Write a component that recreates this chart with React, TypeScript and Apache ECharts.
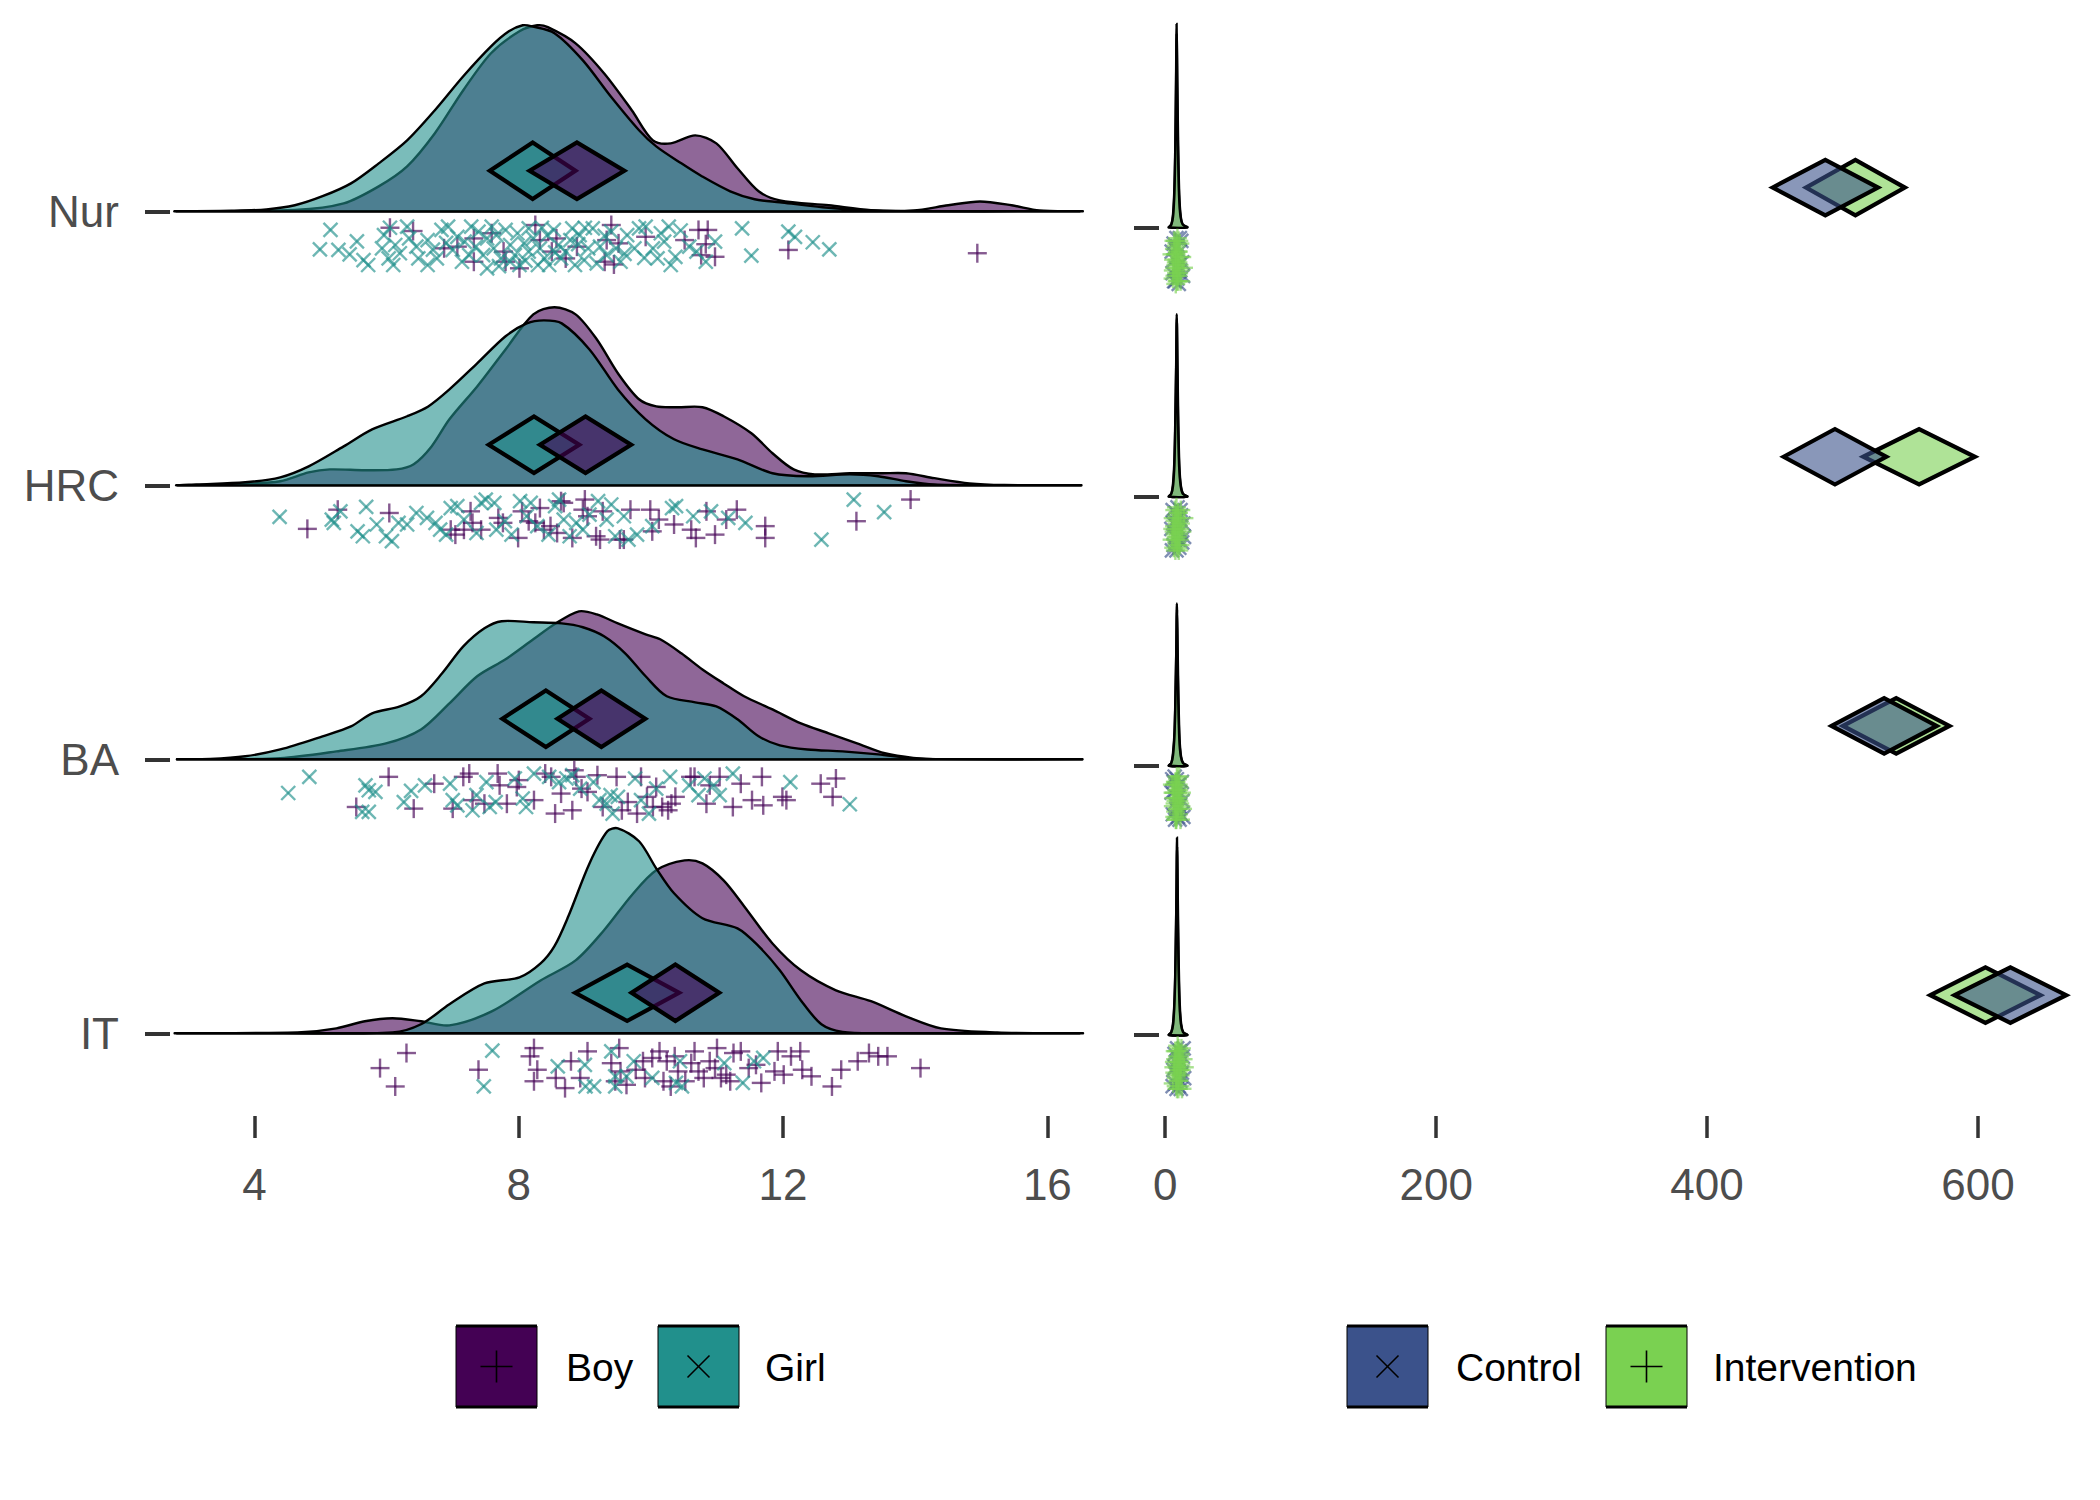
import React, { useEffect, useRef } from "react";
import * as echarts from "echarts";

// ---------- categories & ticks ----------
const ROW_NAMES = ["IT", "BA", "HRC", "Nur"]; // rows 1..4 (bottom to top)
const LEFT_TICKS = [4, 8, 12, 16];
const RIGHT_TICKS = [0, 200, 400, 600];
const SEX_GROUPS = ["Boy", "Girl"];
const ARM_GROUPS = ["Control", "Intervention"];

// ---------- left panel densities: [value, height above row] ----------
const boyDensNur = [[2.85,0],[4.61,0.005],[5.35,0.029],[5.88,0.091],[6.31,0.164],[6.73,0.285],[7.16,0.442],[7.58,0.577],[8.01,0.657],[8.28,0.679],[8.44,0.672],[8.86,0.613],[9.29,0.504],[9.71,0.369],[10.03,0.259],[10.3,0.248],[10.67,0.277],[10.99,0.248],[11.31,0.157],[11.63,0.073],[11.95,0.04],[12.69,0.022],[13.33,0.004],[13.97,0.003],[14.5,0.022],[14.98,0.036],[15.46,0.022],[15.88,0.003],[16.46,0]];
const girlDensNur = [[2.85,0],[3.65,0.002],[4.18,0.007],[4.61,0.022],[5.03,0.055],[5.46,0.102],[5.88,0.175],[6.31,0.259],[6.73,0.369],[7.16,0.493],[7.58,0.602],[7.85,0.657],[8.06,0.679],[8.2,0.675],[8.54,0.65],[8.97,0.551],[9.39,0.42],[9.82,0.296],[10.08,0.237],[10.46,0.175],[10.77,0.128],[11.2,0.073],[11.57,0.044],[11.95,0.033],[12.6,0.015],[13.22,0.004],[13.8,0],[16.46,0]];
const boyDensHRC = [[2.85,0],[3.65,0.003],[4.39,0.015],[4.82,0.047],[5.14,0.058],[5.67,0.055],[6.15,0.058],[6.41,0.077],[6.68,0.142],[6.95,0.241],[7.37,0.361],[7.8,0.496],[8.22,0.624],[8.54,0.65],[8.86,0.624],[9.18,0.533],[9.5,0.409],[9.82,0.314],[10.08,0.288],[10.4,0.285],[10.78,0.285],[11.1,0.252],[11.52,0.19],[11.84,0.117],[12.16,0.058],[12.48,0.04],[13.01,0.044],[13.5,0.044],[13.86,0.044],[14.29,0.026],[14.82,0.007],[15.35,0.001],[16.46,0]];
const girlDensHRC = [[2.85,0],[3.12,0.003],[3.86,0.011],[4.39,0.029],[4.82,0.069],[5.35,0.142],[5.78,0.204],[6.31,0.252],[6.63,0.288],[6.95,0.35],[7.37,0.445],[7.8,0.544],[8.12,0.591],[8.38,0.602],[8.65,0.591],[9.07,0.496],[9.5,0.35],[9.92,0.241],[10.35,0.168],[10.78,0.131],[11.31,0.095],[11.84,0.044],[12.37,0.033],[13.01,0.04],[13.44,0.033],[13.86,0.015],[14.29,0.003],[15.03,0],[16.46,0]];
const boyDensBA = [[2.85,0],[3.33,0],[4.39,0.004],[5.24,0.029],[5.99,0.058],[6.52,0.109],[6.95,0.204],[7.37,0.303],[7.8,0.365],[8.22,0.438],[8.54,0.493],[8.91,0.54],[9.18,0.529],[9.5,0.496],[9.92,0.456],[10.14,0.438],[10.46,0.387],[10.78,0.328],[11.1,0.277],[11.41,0.23],[11.84,0.182],[12.27,0.131],[12.69,0.095],[13.12,0.058],[13.54,0.022],[13.97,0.005],[14.39,0],[16.46,0]];
const girlDensBA = [[2.85,0],[3.33,0.001],[3.86,0.011],[4.39,0.036],[5.03,0.084],[5.46,0.12],[5.78,0.168],[6.2,0.193],[6.52,0.23],[6.84,0.314],[7.16,0.412],[7.48,0.478],[7.74,0.504],[8.22,0.5],[8.65,0.496],[8.97,0.482],[9.29,0.449],[9.61,0.387],[9.92,0.303],[10.24,0.23],[10.67,0.208],[10.99,0.193],[11.31,0.146],[11.63,0.084],[11.95,0.051],[12.37,0.036],[12.9,0.029],[13.44,0.018],[13.97,0.003],[14.5,0],[16.46,0]];
const boyDensIT = [[2.85,0],[3.33,0],[4.71,0.004],[5.24,0.018],[5.67,0.044],[6.09,0.055],[6.52,0.044],[6.95,0.029],[7.59,0.08],[8.33,0.193],[8.86,0.266],[9.29,0.376],[9.71,0.504],[10.08,0.595],[10.51,0.631],[10.78,0.62],[11.1,0.558],[11.41,0.464],[11.84,0.328],[12.27,0.23],[12.8,0.157],[13.33,0.117],[13.86,0.062],[14.39,0.018],[15.24,0.003],[15.88,0],[16.46,0]];
const girlDensIT = [[2.85,0],[4.39,0],[6.09,0.003],[6.52,0.033],[6.95,0.106],[7.48,0.182],[8.01,0.204],[8.33,0.255],[8.54,0.318],[8.75,0.427],[9.07,0.62],[9.34,0.737],[9.5,0.748],[9.82,0.701],[10.08,0.602],[10.35,0.511],[10.78,0.42],[11.31,0.383],[11.63,0.318],[11.95,0.23],[12.27,0.12],[12.58,0.033],[12.9,0.005],[13.44,0],[16.46,0]];

// ---------- right panel densities ----------
const ctrlDensNur = [[2.7,0],[4.5,0.01],[5.8,0.05],[6.8,0.15],[7.5,0.32],[8.0,0.52],[8.5,0.72],[9.0,0.52],[9.6,0.3],[10.4,0.12],[11.5,0.04],[13,0.01],[16.3,0]];
const intvDensNur = [[2.7,0],[4.5,0.01],[5.8,0.04],[6.8,0.13],[7.5,0.3],[8.0,0.55],[8.4,0.756],[8.8,0.55],[9.4,0.3],[10.2,0.12],[11.3,0.04],[13,0.01],[16.3,0]];
const ctrlDensHRC = [[2.7,0],[4.5,0.01],[5.8,0.05],[6.8,0.14],[7.5,0.3],[8.1,0.48],[8.6,0.66],[9.1,0.48],[9.7,0.27],[10.5,0.11],[11.6,0.04],[13.2,0.01],[16.3,0]];
const intvDensHRC = [[2.7,0],[4.5,0.01],[5.8,0.04],[6.8,0.12],[7.5,0.28],[8.1,0.5],[8.5,0.678],[8.9,0.5],[9.5,0.27],[10.3,0.11],[11.4,0.04],[13,0.01],[16.3,0]];
const ctrlDensBA = [[2.7,0],[4.5,0.01],[5.8,0.05],[6.9,0.13],[7.6,0.27],[8.2,0.43],[8.7,0.58],[9.2,0.43],[9.8,0.25],[10.6,0.1],[11.7,0.035],[13.3,0.01],[16.3,0]];
const intvDensBA = [[2.7,0],[4.5,0.01],[5.8,0.04],[6.9,0.12],[7.6,0.26],[8.2,0.44],[8.6,0.603],[9.0,0.44],[9.6,0.25],[10.4,0.1],[11.5,0.035],[13.1,0.01],[16.3,0]];
const ctrlDensIT = [[2.7,0],[4.5,0.01],[5.9,0.05],[7.0,0.15],[7.7,0.31],[8.3,0.51],[8.8,0.7],[9.3,0.51],[9.9,0.29],[10.7,0.12],[11.8,0.04],[13.4,0.01],[16.3,0]];
const intvDensIT = [[2.7,0],[4.5,0.01],[5.9,0.04],[7.0,0.14],[7.7,0.3],[8.3,0.53],[8.7,0.733],[9.1,0.53],[9.7,0.29],[10.5,0.12],[11.6,0.04],[13.2,0.01],[16.3,0]];

// ---------- means (diamonds): row order IT, BA, HRC, Nur ----------
const boyMeans = [10.37, 9.25, 9.01, 8.88];
const boyHalfCI = [0.664, 0.664, 0.69, 0.717];
const girlMeans = [9.64, 8.41, 8.23, 8.21];
const girlHalfCI = [0.786, 0.658, 0.685, 0.648];
const ctrlMeans = [623.9, 530.7, 494.4, 487.3];
const ctrlHalfCI = [41.2, 38.8, 37.9, 38.9];
const intvMeans = [605.5, 539.6, 556.5, 509.5];
const intvHalfCI = [40.7, 39.3, 41.2, 36.5];

// ---------- rain points: [value, jitter below row] ----------
const girlRainNur = [[5.15,0.068],[4.99,0.139],[5.27,0.141],[5.44,0.157],[5.65,0.178],[5.72,0.196],[5.96,0.087],[5.93,0.135],[6.03,0.172],[6.1,0.196],[6.2,0.153],[6.31,0.056],[6.34,0.099],[6.45,0.129],[6.62,0.105],[6.62,0.196],[6.76,0.172],[6.83,0.068],[6.93,0.056],[7.0,0.141],[7.07,0.093],[7.14,0.184],[7.28,0.056],[7.35,0.129],[7.46,0.16],[7.52,0.208],[7.59,0.056],[7.66,0.087],[7.8,0.068],[7.87,0.123],[7.94,0.16],[8.01,0.196],[8.08,0.117],[8.15,0.062],[8.22,0.099],[8.32,0.135],[8.39,0.172],[8.46,0.196],[8.53,0.068],[8.6,0.123],[8.71,0.147],[8.81,0.062],[8.92,0.087],[8.99,0.178],[9.12,0.062],[9.23,0.129],[9.33,0.16],[9.47,0.135],[9.54,0.184],[9.64,0.087],[9.75,0.135],[9.82,0.062],[9.92,0.056],[10.03,0.135],[10.1,0.172],[10.2,0.111],[10.27,0.056],[10.3,0.196],[10.37,0.166],[10.58,0.129],[10.69,0.147],[10.83,0.184],[10.97,0.111],[11.38,0.062],[11.52,0.162],[12.08,0.074],[12.18,0.093],[12.45,0.113],[12.7,0.139],[7.52,0.099],[7.73,0.172],[8.15,0.147],[8.43,0.087],[8.85,0.196],[9.05,0.135],[7.87,0.184],[8.29,0.196],[8.64,0.172],[7.39,0.074],[9.4,0.074],[7.18,0.111],[6.48,0.172],[6.13,0.123],[6.9,0.115],[7.25,0.16],[7.62,0.135],[7.98,0.08],[8.35,0.06],[8.55,0.15],[8.78,0.105],[9.0,0.06],[9.18,0.19],[9.3,0.09],[9.6,0.155],[9.9,0.17],[10.15,0.08],[10.45,0.07],[6.7,0.14],[6.05,0.06],[5.55,0.11],[8.1,0.18],[8.9,0.12],[7.7,0.2]];
const boyRainNur = [[6.05,0.06],[6.4,0.072],[6.87,0.135],[7.07,0.129],[7.32,0.099],[7.32,0.184],[7.59,0.08],[7.77,0.147],[7.8,0.184],[8.01,0.208],[8.25,0.05],[8.32,0.105],[8.5,0.147],[8.57,0.099],[8.71,0.172],[8.88,0.129],[9.3,0.184],[9.33,0.105],[9.4,0.05],[9.44,0.194],[9.51,0.117],[9.92,0.093],[10.51,0.105],[10.72,0.068],[10.76,0.16],[10.83,0.12],[10.86,0.068],[10.97,0.166],[12.08,0.141],[14.94,0.153]];
const girlRainHRC = [[4.38,0.115],[5.17,0.125],[5.2,0.137],[5.3,0.095],[5.56,0.168],[5.64,0.186],[5.69,0.079],[5.85,0.143],[5.99,0.186],[6.08,0.204],[6.18,0.137],[6.31,0.143],[6.45,0.101],[6.61,0.119],[6.74,0.137],[6.81,0.162],[6.9,0.18],[6.97,0.083],[7.07,0.076],[7.17,0.125],[7.36,0.174],[7.43,0.064],[7.5,0.052],[7.63,0.064],[7.66,0.162],[7.79,0.131],[7.89,0.18],[8.02,0.058],[8.12,0.113],[8.18,0.064],[8.28,0.149],[8.45,0.18],[8.55,0.076],[8.61,0.052],[8.68,0.125],[8.77,0.186],[8.87,0.137],[8.97,0.162],[9.07,0.107],[9.2,0.058],[9.33,0.125],[9.4,0.07],[9.46,0.186],[9.59,0.113],[9.66,0.198],[9.79,0.18],[10.02,0.149],[10.32,0.083],[10.38,0.076],[10.64,0.113],[10.91,0.095],[11.17,0.119],[11.43,0.137],[12.58,0.198],[13.07,0.052],[13.53,0.098]];
const boyRainHRC = [[4.8,0.159],[5.26,0.089],[6.04,0.101],[6.97,0.162],[7.04,0.18],[7.17,0.162],[7.27,0.095],[7.3,0.137],[7.43,0.162],[7.69,0.119],[7.76,0.137],[7.99,0.192],[8.05,0.095],[8.15,0.131],[8.25,0.137],[8.32,0.083],[8.38,0.162],[8.48,0.149],[8.58,0.174],[8.64,0.058],[8.68,0.064],[8.81,0.192],[8.97,0.089],[9.0,0.052],[9.04,0.113],[9.17,0.186],[9.23,0.198],[9.27,0.095],[9.53,0.198],[9.59,0.198],[9.69,0.089],[9.99,0.089],[10.02,0.168],[10.12,0.125],[10.35,0.143],[10.61,0.162],[10.68,0.192],[10.84,0.095],[10.97,0.18],[11.14,0.125],[11.3,0.089],[11.73,0.149],[11.73,0.192],[13.11,0.131],[13.93,0.052]];
const girlRainBA = [[4.51,0.123],[4.83,0.064],[5.68,0.095],[5.73,0.113],[5.83,0.119],[5.63,0.192],[5.73,0.192],[6.26,0.156],[6.37,0.115],[6.58,0.095],[6.96,0.089],[7.0,0.149],[7.07,0.168],[7.3,0.186],[7.36,0.131],[7.51,0.083],[7.56,0.174],[7.65,0.156],[7.94,0.07],[8.06,0.143],[8.11,0.174],[8.23,0.052],[8.46,0.064],[8.61,0.083],[8.72,0.07],[8.81,0.058],[8.93,0.107],[9.13,0.083],[9.22,0.149],[9.33,0.162],[9.39,0.131],[9.42,0.198],[9.5,0.137],[9.76,0.07],[9.85,0.149],[9.97,0.198],[10.08,0.107],[10.29,0.064],[10.58,0.095],[10.72,0.131],[10.81,0.07],[10.95,0.095],[11.04,0.131],[11.24,0.052],[12.11,0.083],[13.01,0.164]];
const boyRainBA = [[5.54,0.174],[6.03,0.064],[6.41,0.18],[6.72,0.089],[7.0,0.18],[7.16,0.064],[7.25,0.052],[7.3,0.149],[7.48,0.162],[7.68,0.052],[7.71,0.095],[7.82,0.162],[7.97,0.101],[8.0,0.076],[8.23,0.149],[8.4,0.052],[8.49,0.064],[8.55,0.198],[8.64,0.125],[8.81,0.186],[8.84,0.04],[8.87,0.064],[8.95,0.107],[9.04,0.119],[9.19,0.058],[9.27,0.174],[9.48,0.064],[9.56,0.186],[9.65,0.156],[9.79,0.198],[9.85,0.064],[9.94,0.137],[10.03,0.174],[10.08,0.101],[10.17,0.174],[10.26,0.186],[10.31,0.162],[10.37,0.137],[10.6,0.064],[10.66,0.064],[10.84,0.162],[10.89,0.095],[11.04,0.064],[11.24,0.174],[11.36,0.089],[11.53,0.149],[11.68,0.064],[11.7,0.168],[11.99,0.137],[12.05,0.149],[12.57,0.089],[12.75,0.137],[12.8,0.07]];
const girlRainIT = [[7.6,0.063],[7.47,0.194],[8.59,0.121],[9.0,0.115],[9.01,0.194],[9.14,0.194],[9.4,0.066],[9.46,0.157],[9.46,0.194],[9.63,0.157],[9.74,0.102],[10.02,0.163],[10.38,0.181],[10.44,0.102],[10.47,0.194],[11.11,0.109],[11.39,0.181],[11.56,0.102],[11.7,0.09]];
const boyRainIT = [[5.9,0.127],[6.3,0.072],[6.13,0.194],[7.39,0.133],[8.17,0.084],[8.23,0.175],[8.28,0.133],[8.23,0.054],[8.56,0.163],[8.7,0.2],[8.79,0.102],[8.93,0.163],[9.04,0.066],[9.4,0.109],[9.52,0.054],[9.46,0.175],[9.54,0.139],[9.63,0.188],[9.77,0.133],[9.88,0.102],[9.91,0.163],[10.02,0.09],[10.13,0.066],[10.19,0.175],[10.24,0.102],[10.3,0.194],[10.36,0.084],[10.41,0.139],[10.52,0.175],[10.61,0.109],[10.66,0.066],[10.72,0.139],[10.8,0.163],[10.89,0.102],[10.97,0.127],[11.0,0.054],[11.06,0.163],[11.14,0.151],[11.2,0.175],[11.25,0.072],[11.36,0.066],[11.48,0.127],[11.59,0.115],[11.67,0.181],[11.87,0.139],[11.92,0.066],[12.01,0.151],[12.12,0.084],[12.26,0.066],[12.29,0.133],[12.43,0.157],[12.74,0.194],[12.88,0.133],[13.13,0.102],[13.3,0.072],[13.44,0.084],[13.58,0.084],[14.08,0.127]];

const ctrlRainNur = [[5.4,0.17],[6.2,0.06],[6.9,0.12],[7.3,0.2],[7.7,0.08],[8.0,0.15],[8.3,0.04],[8.6,0.11],[8.9,0.19],[9.2,0.07],[9.6,0.14],[10.0,0.21],[10.5,0.09],[11.1,0.16],[11.9,0.05],[12.6,0.13],[4.8,0.09],[13.2,0.18],[6.6,0.2],[10.8,0.04]];
const intvRainNur = [[5.0,0.1],[5.8,0.19],[6.5,0.05],[7.0,0.15],[7.4,0.1],[7.8,0.21],[8.1,0.07],[8.4,0.17],[8.7,0.12],[9.0,0.04],[9.3,0.18],[9.7,0.09],[10.2,0.14],[10.8,0.06],[11.4,0.2],[12.2,0.11],[13.5,0.15],[8.2,0.13],[9.5,0.2],[7.6,0.05],[6.2,0.12],[6.8,0.08],[7.2,0.18],[8.0,0.1],[8.6,0.06],[8.9,0.15],[9.1,0.09],[9.9,0.17],[10.5,0.11],[11.0,0.16],[7.9,0.14],[8.8,0.2],[9.4,0.13],[10.0,0.05],[6.0,0.16]];
const ctrlRainHRC = [[4.6,0.12],[5.5,0.05],[6.3,0.18],[6.9,0.09],[7.4,0.15],[7.9,0.06],[8.3,0.2],[8.7,0.11],[9.1,0.04],[9.5,0.16],[9.9,0.08],[10.4,0.19],[11.0,0.13],[11.7,0.07],[12.5,0.17],[13.4,0.1],[5.0,0.2],[13.9,0.15],[6.0,0.1],[11.3,0.05]];
const intvRainHRC = [[5.1,0.16],[5.9,0.08],[6.6,0.13],[7.1,0.05],[7.5,0.2],[7.9,0.12],[8.2,0.07],[8.5,0.17],[8.8,0.1],[9.1,0.19],[9.4,0.06],[9.8,0.14],[10.3,0.09],[10.9,0.18],[11.5,0.05],[12.3,0.13],[13.8,0.08],[8.0,0.15],[9.6,0.11],[7.3,0.09],[6.3,0.19],[6.9,0.11],[7.7,0.16],[8.3,0.04],[8.6,0.13],[9.0,0.08],[9.2,0.15],[10.0,0.2],[10.6,0.12],[11.2,0.1],[7.4,0.14],[8.9,0.18],[9.7,0.06],[10.4,0.16],[5.6,0.12]];
const ctrlRainBA = [[4.7,0.1],[5.6,0.18],[6.2,0.06],[6.8,0.14],[7.3,0.2],[7.8,0.09],[8.2,0.16],[8.6,0.05],[9.0,0.12],[9.4,0.19],[9.8,0.07],[10.3,0.15],[10.9,0.1],[11.6,0.18],[12.3,0.06],[12.9,0.13],[5.2,0.05],[13.4,0.19],[7.0,0.04],[10.6,0.2]];
const intvRainBA = [[5.3,0.07],[6.0,0.15],[6.6,0.1],[7.1,0.19],[7.5,0.06],[7.9,0.13],[8.2,0.2],[8.5,0.09],[8.8,0.16],[9.1,0.05],[9.4,0.12],[9.8,0.18],[10.2,0.08],[10.7,0.14],[11.3,0.2],[12.0,0.1],[12.8,0.16],[8.4,0.12],[9.6,0.07],[7.7,0.17],[6.3,0.12],[6.9,0.07],[7.3,0.14],[8.0,0.06],[8.7,0.19],[9.0,0.1],[9.3,0.16],[10.0,0.13],[10.4,0.04],[11.0,0.11],[7.8,0.2],[8.6,0.04],[9.9,0.09],[11.6,0.15],[5.8,0.1]];
const ctrlRainIT = [[6.0,0.13],[6.9,0.07],[7.5,0.18],[8.0,0.1],[8.4,0.2],[8.8,0.05],[9.2,0.15],[9.6,0.09],[10.0,0.19],[10.4,0.12],[10.8,0.06],[11.2,0.17],[11.7,0.1],[12.3,0.14],[13.0,0.08],[14.0,0.16],[5.5,0.19],[13.6,0.05],[7.2,0.12],[11.5,0.2]];
const intvRainIT = [[5.9,0.18],[6.8,0.1],[7.4,0.06],[7.9,0.15],[8.3,0.11],[8.7,0.2],[9.0,0.08],[9.4,0.14],[9.8,0.05],[10.1,0.17],[10.5,0.1],[10.9,0.19],[11.3,0.07],[11.8,0.13],[12.4,0.2],[13.2,0.09],[14.1,0.12],[9.6,0.17],[10.7,0.13],[8.5,0.06],[7.1,0.14],[7.7,0.09],[8.1,0.19],[8.9,0.12],[9.2,0.04],[9.5,0.1],[10.0,0.13],[10.3,0.06],[11.0,0.15],[11.5,0.11],[12.0,0.05],[8.2,0.16],[9.7,0.2],[10.6,0.08],[6.4,0.12]];

// ---------- grouped arrays (row order IT, BA, HRC, Nur) ----------
const boyDens = [boyDensIT, boyDensBA, boyDensHRC, boyDensNur];
const girlDens = [girlDensIT, girlDensBA, girlDensHRC, girlDensNur];
const ctrlDens = [ctrlDensIT, ctrlDensBA, ctrlDensHRC, ctrlDensNur];
const intvDens = [intvDensIT, intvDensBA, intvDensHRC, intvDensNur];
const boyRain = [boyRainIT, boyRainBA, boyRainHRC, boyRainNur];
const girlRain = [girlRainIT, girlRainBA, girlRainHRC, girlRainNur];
const ctrlRain = [ctrlRainIT, ctrlRainBA, ctrlRainHRC, ctrlRainNur];
const intvRain = [intvRainIT, intvRainBA, intvRainHRC, intvRainNur];

// ---------- styles ----------
const C_BOY = "#440154";
const C_GIRL = "#21908C";
const C_CTRL = "#3B528B";
const C_INTV = "#7AD151";
const rgba = (hex: string, a: number) => {
  const n = parseInt(hex.slice(1), 16);
  return `rgba(${(n >> 16) & 255},${(n >> 8) & 255},${n & 255},${a})`;
};
const FONT = "'Liberation Sans', Arial, sans-serif";
const DIA_OFF = 0.148;
const DIA_H = 0.103;

function densitySeries(gi: number, pts: number[][], row: number, color: string) {
  return {
    type: "custom",
    xAxisIndex: gi,
    yAxisIndex: gi,
    silent: true,
    data: pts.map((p) => [p[0], row + p[1]]),
    renderItem: (params: any, api: any) => {
      if (params.dataIndex !== 0) return null;
      const poly = pts.map((p) => api.coord([p[0], row + p[1]]));
      return {
        type: "polygon",
        shape: { points: poly, smooth: 0.3 },
        style: { fill: rgba(color, 0.6), stroke: "#000", lineWidth: 2.4 },
      };
    },
  };
}

function rainSeries(gi: number, pts: number[][], row: number, color: string, kind: string) {
  return {
    type: "custom",
    xAxisIndex: gi,
    yAxisIndex: gi,
    silent: true,
    data: pts.map((p) => [p[0], row - p[1]]),
    renderItem: (params: any, api: any) => {
      const c = api.coord([api.value(0), api.value(1)]);
      const h = kind === "plus" ? 9.5 : 7;
      const segs =
        kind === "plus"
          ? [[c[0] - h, c[1], c[0] + h, c[1]], [c[0], c[1] - h, c[0], c[1] + h]]
          : [[c[0] - h, c[1] - h, c[0] + h, c[1] + h], [c[0] - h, c[1] + h, c[0] + h, c[1] - h]];
      return {
        type: "group",
        children: segs.map((s) => ({
          type: "line",
          shape: { x1: s[0], y1: s[1], x2: s[2], y2: s[3] },
          style: { stroke: rgba(color, 0.65), lineWidth: 2.4 },
        })),
      };
    },
  };
}

function diamondSeries(gi: number, means: number[], halves: number[], color: string) {
  return {
    type: "custom",
    xAxisIndex: gi,
    yAxisIndex: gi,
    silent: true,
    data: means.map((m, i) => [m, i + 1, halves[i]]),
    renderItem: (params: any, api: any) => {
      const m = api.value(0);
      const y = api.value(1) + DIA_OFF;
      const hw = api.value(2);
      const poly = [
        api.coord([m - hw, y]),
        api.coord([m, y + DIA_H]),
        api.coord([m + hw, y]),
        api.coord([m, y - DIA_H]),
      ];
      return {
        type: "polygon",
        shape: { points: poly },
        style: { fill: rgba(color, 0.6), stroke: "#000", lineWidth: 4.2, lineJoin: "miter" },
      };
    },
  };
}

function legendItem(x: number, color: string, kind: string, label: string, textX: number) {
  const top = 1326, h = 81, w = 81;
  const cx = x + w / 2, cy = top + h / 2;
  const glyph =
    kind === "plus"
      ? [
          { type: "line", shape: { x1: cx - 16, y1: cy, x2: cx + 16, y2: cy }, style: { stroke: "#000", lineWidth: 1.6 } },
          { type: "line", shape: { x1: cx, y1: cy - 16, x2: cx, y2: cy + 16 }, style: { stroke: "#000", lineWidth: 1.6 } },
        ]
      : [
          { type: "line", shape: { x1: cx - 11, y1: cy - 11, x2: cx + 11, y2: cy + 11 }, style: { stroke: "#000", lineWidth: 1.6 } },
          { type: "line", shape: { x1: cx - 11, y1: cy + 11, x2: cx + 11, y2: cy - 11 }, style: { stroke: "#000", lineWidth: 1.6 } },
        ];
  return [
    { type: "rect", shape: { x, y: top, width: w, height: h }, style: { fill: color, stroke: "#000", lineWidth: 1 } },
    { type: "line", shape: { x1: x, y1: top, x2: x + w, y2: top }, style: { stroke: "#000", lineWidth: 3 } },
    { type: "line", shape: { x1: x, y1: top + h, x2: x + w, y2: top + h }, style: { stroke: "#000", lineWidth: 3 } },
    ...glyph,
    {
      type: "text",
      x: textX,
      y: cy + 1,
      style: { text: label, fontSize: 39, fontFamily: FONT, fill: "#000", textVerticalAlign: "middle", verticalAlign: "middle", textAlign: "left" },
    },
  ];
}

export default function App() {
  const ref = useRef<HTMLDivElement>(null);
  useEffect(() => {
    if (!ref.current) return;
    const chart = echarts.init(ref.current, null, { renderer: "svg" });
    const series: any[] = [];
    // left panel
    boyDens.forEach((d, i) => series.push(densitySeries(0, d, i + 1, C_BOY)));
    girlDens.forEach((d, i) => series.push(densitySeries(0, d, i + 1, C_GIRL)));
    boyRain.forEach((d, i) => series.push(rainSeries(0, d, i + 1, C_BOY, "plus")));
    girlRain.forEach((d, i) => series.push(rainSeries(0, d, i + 1, C_GIRL, "cross")));
    series.push(diamondSeries(0, girlMeans, girlHalfCI, C_GIRL));
    series.push(diamondSeries(0, boyMeans, boyHalfCI, C_BOY));
    // right panel
    ctrlDens.forEach((d, i) => series.push(densitySeries(1, d, i + 1, C_CTRL)));
    intvDens.forEach((d, i) => series.push(densitySeries(1, d, i + 1, C_INTV)));
    ctrlRain.forEach((d, i) => series.push(rainSeries(1, d, i + 1, C_CTRL, "cross")));
    intvRain.forEach((d, i) => series.push(rainSeries(1, d, i + 1, C_INTV, "plus")));
    series.push(diamondSeries(1, intvMeans, intvHalfCI, C_INTV));
    series.push(diamondSeries(1, ctrlMeans, ctrlHalfCI, C_CTRL));

    const tickStyle = { color: "#333333", width: 3.5 };
    const option: any = {
      animation: false,
      backgroundColor: "#ffffff",
      grid: [
        { left: 170, right: 1014, top: 10, bottom: 384 },
        { left: 1159, right: 25, top: 10, bottom: 384 },
      ],
      xAxis: [
        {
          gridIndex: 0, type: "value", min: 2.721, max: 16.585,
          axisLine: { show: false, onZero: false }, splitLine: { show: false },
          axisTick: { show: true, length: 22, lineStyle: tickStyle, customValues: LEFT_TICKS },
          axisLabel: { customValues: LEFT_TICKS, fontSize: 44, color: "#4D4D4D", margin: 46, fontFamily: FONT, lineHeight: 44 },
        },
        {
          gridIndex: 1, type: "value", min: -4.58, max: 671.6,
          axisLine: { show: false, onZero: false }, splitLine: { show: false },
          axisTick: { show: true, length: 22, lineStyle: tickStyle, customValues: RIGHT_TICKS },
          axisLabel: { customValues: RIGHT_TICKS, fontSize: 44, color: "#4D4D4D", margin: 46, fontFamily: FONT, lineHeight: 44 },
        },
      ],
      yAxis: [
        {
          gridIndex: 0, type: "value", min: 0.6982, max: 4.7347,
          axisLine: { show: false, onZero: false }, splitLine: { show: false },
          axisTick: { show: true, length: 25, lineStyle: { color: "#333333", width: 4 }, customValues: [1, 2, 3, 4] },
          axisLabel: {
            customValues: [1, 2, 3, 4], fontSize: 44, color: "#4D4D4D", margin: 51, fontFamily: FONT,
            formatter: (v: number) => ROW_NAMES[Math.round(v) - 1] || "",
          },
        },
        {
          gridIndex: 1, type: "value", min: 0.699, max: 4.8076,
          axisLine: { show: false, onZero: false }, splitLine: { show: false },
          axisTick: { show: true, length: 25, lineStyle: { color: "#333333", width: 4 }, customValues: [1, 2, 3, 4] },
          axisLabel: { show: false },
        },
      ],
      series,
      graphic: [
        ...legendItem(456, C_BOY, "plus", SEX_GROUPS[0], 566),
        ...legendItem(658, C_GIRL, "cross", SEX_GROUPS[1], 765),
        ...legendItem(1347, C_CTRL, "cross", ARM_GROUPS[0], 1456),
        ...legendItem(1606, C_INTV, "plus", ARM_GROUPS[1], 1713),
      ],
    };
    chart.setOption(option);
    return () => chart.dispose();
  }, []);
  return <div ref={ref} style={{ position: "fixed", left: 0, top: 0, width: 2100, height: 1500, background: "#fff" }} />;
}
